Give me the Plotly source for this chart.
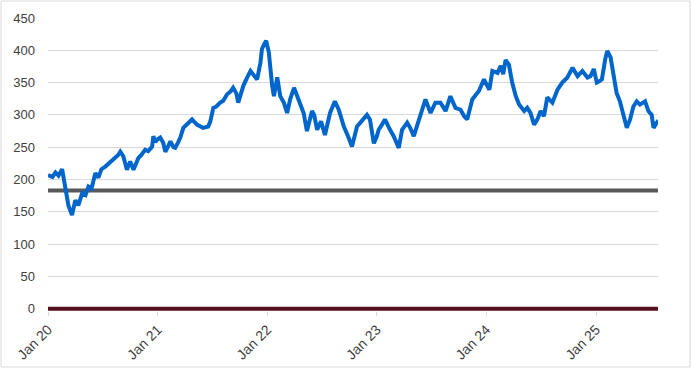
import plotly.graph_objects as go

dates = [
    "2020-01-01", "2020-01-16", "2020-01-26", "2020-02-05", "2020-02-17", "2020-02-28",
    "2020-03-09", "2020-03-21", "2020-04-01", "2020-04-11", "2020-04-24", "2020-05-05",
    "2020-05-15", "2020-05-25", "2020-06-07", "2020-06-17", "2020-06-27", "2020-07-10",
    "2020-07-20", "2020-08-01", "2020-08-12", "2020-08-22", "2020-08-29", "2020-09-08",
    "2020-09-20", "2020-10-01", "2020-10-12", "2020-10-28", "2020-11-07", "2020-11-20",
    "2020-11-30", "2020-12-13", "2020-12-17", "2020-12-24",
    "2020-12-30", "2021-01-09", "2021-01-19", "2021-01-26", "2021-02-05", "2021-02-12",
    "2021-02-22", "2021-02-28", "2021-03-10", "2021-03-17", "2021-03-27", "2021-04-09",
    "2021-04-25", "2021-05-11", "2021-05-22", "2021-06-01", "2021-06-18", "2021-06-25",
    "2021-07-05", "2021-07-15", "2021-07-28", "2021-08-07", "2021-08-20", "2021-08-31",
    "2021-09-09", "2021-09-20", "2021-09-26", "2021-10-03", "2021-10-13", "2021-10-26",
    "2021-11-06", "2021-11-16", "2021-11-28", "2021-12-09", "2021-12-14", "2021-12-22",
    "2021-12-28",
    "2022-01-06", "2022-01-11", "2022-01-17", "2022-01-23", "2022-02-03", "2022-02-13",
    "2022-02-25", "2022-03-08", "2022-03-18", "2022-03-31", "2022-04-16", "2022-05-02",
    "2022-05-13", "2022-05-30", "2022-06-06", "2022-06-16", "2022-06-29", "2022-07-12",
    "2022-07-29", "2022-08-14", "2022-08-27", "2022-09-13", "2022-09-27", "2022-10-10",
    "2022-10-27", "2022-11-12", "2022-11-29", "2022-12-09", "2022-12-22",
    "2023-01-01", "2023-01-07", "2023-01-18", "2023-01-28", "2023-02-14", "2023-02-26",
    "2023-03-15", "2023-03-26", "2023-04-12", "2023-04-22", "2023-05-04", "2023-05-21",
    "2023-06-01", "2023-06-12", "2023-06-29", "2023-07-15", "2023-08-01", "2023-08-18",
    "2023-09-03", "2023-09-20", "2023-10-07", "2023-10-19", "2023-10-29", "2023-11-15",
    "2023-12-07", "2023-12-24",
    "2024-01-04", "2024-01-11", "2024-01-21", "2024-02-07", "2024-02-18", "2024-02-26",
    "2024-03-05", "2024-03-16", "2024-03-27", "2024-04-08", "2024-04-19", "2024-04-27",
    "2024-05-06", "2024-05-16", "2024-05-27", "2024-06-08", "2024-06-19", "2024-06-30",
    "2024-07-11", "2024-07-22", "2024-08-08", "2024-08-25", "2024-09-10", "2024-09-27",
    "2024-10-14", "2024-10-31", "2024-11-16", "2024-12-03", "2024-12-13", "2024-12-24",
    "2025-01-03", "2025-01-11", "2025-01-20", "2025-01-31", "2025-02-07", "2025-02-18",
    "2025-02-27", "2025-03-10", "2025-03-21", "2025-04-01", "2025-04-13", "2025-04-24",
    "2025-05-05", "2025-05-16", "2025-05-27", "2025-06-13", "2025-06-24", "2025-07-05",
    "2025-07-11", "2025-07-22", "2025-07-26",
]

values = [
    207, 204, 211, 206, 216, 184,
    160, 145, 168, 160, 179, 176,
    189, 186, 210, 203, 216, 220,
    224, 228, 233, 238, 243, 236,
    215, 228, 215, 233, 238, 246,
    244, 251, 267, 258,
    262, 265, 257, 243, 252, 259,
    250, 249, 258, 265, 280, 286,
    293, 285, 283, 280, 282, 290,
    311, 313, 319, 322, 332, 336,
    342, 333, 319, 330, 345, 358,
    368, 362, 355, 381, 402, 410,
    415,
    397, 372, 345, 329, 358, 329,
    319, 303, 324, 342, 321, 303,
    275, 306, 300, 277, 290, 269,
    303, 321, 308, 282, 267, 251,
    282, 290, 300, 293, 256,
    267, 277, 285, 293, 277, 267,
    249, 277, 288, 280, 267, 293,
    310, 324, 303, 319, 319, 306,
    329, 311, 308, 298, 293, 324,
    337, 355,
    345, 339, 368, 365, 376, 363,
    385, 378, 350, 329, 316, 310,
    306, 311, 303, 285, 293, 306,
    298, 327, 319, 339, 350, 358,
    373, 360, 368, 358, 360, 371,
    350, 352, 355, 386, 399, 389,
    365, 334, 321, 298, 280, 293,
    313, 321, 316, 321, 306, 300,
    280, 288, 285,
]

gray_level = 183
red_level = 0
x_start = "2020-01-01"
x_end = "2025-07-26"
tick_dates = ["2020-01-01", "2021-01-01", "2022-01-01", "2023-01-01", "2024-01-01", "2025-01-01"]
tick_labels = ["Jan 20", "Jan 21", "Jan 22", "Jan 23", "Jan 24", "Jan 25"]
y_ticks = [0, 50, 100, 150, 200, 250, 300, 350, 400, 450]

fig = go.Figure()
fig.add_trace(go.Scatter(x=[x_start, x_end], y=[gray_level, gray_level], mode="lines",
                         line=dict(color="#595959", width=4), hoverinfo="skip"))
fig.add_trace(go.Scatter(x=dates, y=values, mode="lines",
                         line=dict(color="#0066CC", width=4)))
fig.add_trace(go.Scatter(x=[x_start, x_end], y=[red_level, red_level], mode="lines",
                         line=dict(color="#560f1c", width=4), hoverinfo="skip"))

W, H = 691, 368
ml, mr, mt, mb = 48, 33, 18, 57
pw, ph = W - ml - mr, H - mt - mb

fig.update_layout(
    width=W, height=H,
    margin=dict(l=ml, r=mr, t=mt, b=mb, autoexpand=False),
    paper_bgcolor="white", plot_bgcolor="white",
    showlegend=False,
    font=dict(family="Liberation Sans", size=13, color="#595959"),
    shapes=[dict(type="rect", xref="paper", yref="paper",
                 x0=(-ml + 1) / pw, x1=(W - ml - 1) / pw,
                 y0=(-mb + 1) / ph, y1=(H - mb - 1) / ph,
                 line=dict(color="#d9d9d9", width=1), fillcolor="rgba(0,0,0,0)", layer="below")],
)
fig.update_xaxes(
    type="date", range=[x_start, x_end], automargin=False,
    tickvals=tick_dates, ticktext=tick_labels, tickangle=-45,
    showgrid=False, zeroline=False, showline=False,
    ticks="outside", ticklen=4, tickcolor="#d9d9d9",
    tickfont=dict(size=14, color="#404040"),
)
fig.update_yaxes(
    range=[-3.5, 450], tickvals=y_ticks, automargin=False,
    showgrid=True, gridcolor="#d9d9d9", gridwidth=1,
    zeroline=False, showline=False, ticks="",
    ticklabelstandoff=12,
    tickfont=dict(size=13, color="#404040"),
)

fig.write_html("out.html", config={"displayModeBar": False},
               post_script="document.body.style.margin='0';")
